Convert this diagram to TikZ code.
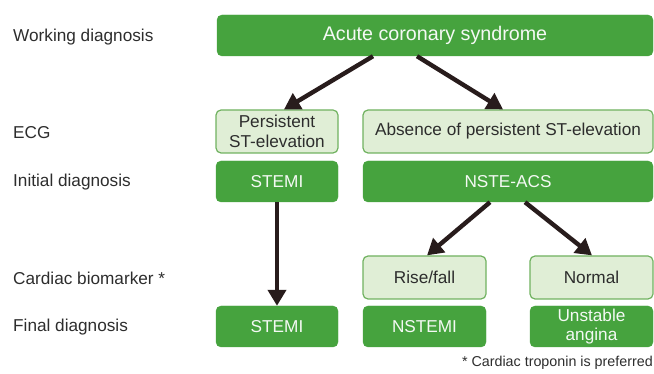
\documentclass[tikz,border=0pt]{standalone}
\usepackage{fontspec}
\setmainfont{Liberation Sans}
\usetikzlibrary{arrows.meta}
\definecolor{dkgreen}{RGB}{70,163,62}
\definecolor{ltfill}{RGB}{224,238,214}
\definecolor{ltborder}{RGB}{112,178,96}
\definecolor{arrowc}{RGB}{40,28,28}
\definecolor{labc}{RGB}{45,45,45}
\tikzset{
  darkbox/.style={fill=dkgreen, draw=dkgreen, rounded corners=5pt, text=white!94!dkgreen, font=\fontsize{17.2}{19.5}\selectfont, align=center, inner sep=0pt},
  lightbox/.style={fill=ltfill, draw=ltborder, line width=1.2pt, rounded corners=5pt, text=labc, font=\fontsize{17.2}{20}\selectfont, align=center, inner sep=0pt},
  rowlabel/.style={anchor=west, text=labc, font=\fontsize{17.2}{18}\selectfont, inner sep=0pt},
  arr/.style={draw=arrowc, line width=4.4pt, -{Triangle[length=16pt,width=18pt]}, shorten >=0pt}
}
\begin{document}
\begin{tikzpicture}[x=1pt,y=-1pt]
\useasboundingbox (0,0) rectangle (654,374);
% row labels
\node[rowlabel] (l1) at (13,37) {Working diagnosis};
\node[rowlabel] (l2) at (13,133) {ECG};
\node[rowlabel] (l3) at (13,182) {Initial diagnosis};
\node[rowlabel] (l4) at (13,278) {Cardiac biomarker *};
\node[rowlabel] (l5) at (13,327) {Final diagnosis};
% boxes
\node[darkbox, minimum width=436pt, minimum height=41pt, font=\fontsize{19.7}{20}\selectfont] (acs) at (435,35.5) {Acute coronary syndrome};
\node[lightbox, minimum width=122pt, minimum height=43pt] (pst) at (277,131.5) {Persistent\\ST-elevation};
\node[lightbox, minimum width=290pt, minimum height=43pt] (abs) at (508,131.5) {Absence of persistent ST-elevation};
\node[darkbox, minimum width=122pt, minimum height=41pt] (stemi1) at (277,181.5) {STEMI};
\node[darkbox, minimum width=290pt, minimum height=41pt] (nste) at (508,181.5) {NSTE-ACS};
\node[lightbox, minimum width=123pt, minimum height=43pt] (rise) at (424.5,277.5) {Rise/fall};
\node[lightbox, minimum width=123pt, minimum height=43pt] (norm) at (591.5,277.5) {Normal};
\node[darkbox, minimum width=122pt, minimum height=41pt] (stemi2) at (277,326.5) {STEMI};
\node[darkbox, minimum width=123pt, minimum height=41pt] (nstemi) at (424.5,326.5) {NSTEMI};
\node[darkbox, minimum width=123pt, minimum height=41pt] (ua) at (591.5,326.5) {Unstable\\angina};
\node[anchor=east, text=labc, font=\fontsize{14.3}{15}\selectfont, inner sep=0pt] (foot) at (653,363) {* Cardiac troponin is preferred};
% arrows
\draw[arr] (acs.south -| 373,0) -- (pst.north -| 284,0);
\draw[arr] (acs.south -| 417,0) -- (abs.north -| 503,0);
\draw[arr] (stemi1.south) -- (stemi2.north);
\draw[arr] (nste.south -| 490,0) -- (rise.north -| 427,0);
\draw[arr] (nste.south -| 525,0) -- (norm.north -| 592,0);
\end{tikzpicture}
\end{document}
